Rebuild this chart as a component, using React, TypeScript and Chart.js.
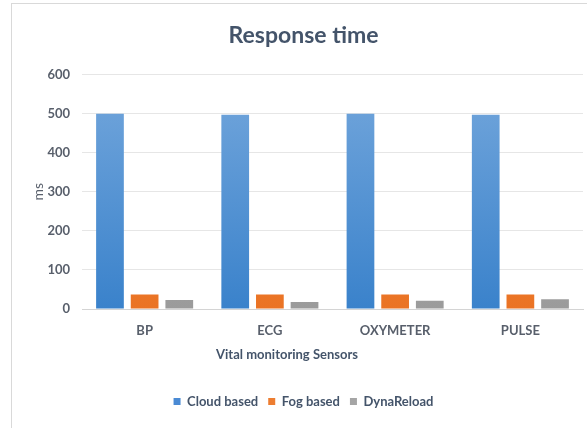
import React, { useEffect, useRef } from 'react';
import { Chart, registerables } from 'chart.js';

Chart.register(...registerables);

const categories = ['BP', 'ECG', 'OXYMETER', 'PULSE'];
const seriesNames = ['Cloud based', 'Fog based', 'DynaReload'];
const cloudBased = [500, 497, 500, 497];
const fogBased = [37, 37, 37, 37];
const dynaReload = [23, 18, 21, 25];
const yMin = 0;
const yMax = 600;
const yStep = 100;

const titleText = 'Response time';
const xTitleText = 'Vital monitoring Sensors';
const yTitleText = 'ms';

const FONT = 'Lato, "Open Sans", sans-serif';
const TITLE_COLOR = '#44546a';
const TICK_COLOR = '#585f6b';

const solidColors = ['#4a8ad4', '#ed7d31', '#a5a5a5'];
const gradStops: [string, string][] = [
  ['#74a7dc', '#3a82cb'],
  ['#f58a3e', '#ea7324'],
  ['#b2b2b2', '#9b9b9b'],
];

const makeGrad = (i: number) => (ctx: any) => {
  const chart = ctx.chart;
  const area = chart.chartArea;
  if (!area) return solidColors[i];
  const g = chart.ctx.createLinearGradient(0, area.top, 0, area.bottom);
  g.addColorStop(0, gradStops[i][0]);
  g.addColorStop(1, gradStops[i][1]);
  return g;
};

const xTitlePlugin = {
  id: 'xTitlePlugin',
  afterDraw(chart: any) {
    const c = chart.ctx;
    c.save();
    c.font = `bold 13px ${FONT}`;
    c.fillStyle = TITLE_COLOR;
    c.textAlign = 'center';
    c.textBaseline = 'middle';
    c.fillText(xTitleText, 287, 355);
    c.restore();
  },
};

export default function App() {
  const ref = useRef<HTMLCanvasElement | null>(null);
  useEffect(() => {
    if (!ref.current) return;
    const series = [cloudBased, fogBased, dynaReload];
    const chart = new Chart(ref.current, {
      type: 'bar',
      data: {
        labels: categories,
        datasets: series.map((d, i) => ({
          label: seriesNames[i],
          data: d,
          backgroundColor: makeGrad(i),
          borderWidth: 0,
          barPercentage: 0.8,
          categoryPercentage: 0.83,
        })),
      },
      plugins: [xTitlePlugin],
      options: {
        animation: false,
        responsive: false,
        devicePixelRatio: 1,
        layout: { padding: { left: 24, right: 4, top: 12, bottom: 10 } },
        plugins: {
          tooltip: { enabled: false },
          title: {
            display: true,
            text: titleText,
            color: TITLE_COLOR,
            font: { family: FONT, size: 23, weight: 'bold' },
            padding: { top: 10, bottom: 25 },
          },
          legend: {
            position: 'bottom',
            labels: {
              boxWidth: 7,
              boxHeight: 7,
              padding: 10,
              color: TITLE_COLOR,
              font: { family: FONT, size: 13, weight: 'bold' },
              generateLabels: (chart: any) =>
                chart.data.datasets.map((ds: any, i: number) => ({
                  text: ds.label,
                  fillStyle: solidColors[i],
                  strokeStyle: solidColors[i],
                  lineWidth: 0,
                  fontColor: TITLE_COLOR,
                  datasetIndex: i,
                  hidden: false,
                })),
            },
          },
        },
        scales: {
          x: {
            grid: { display: false, drawTicks: false },
            border: { display: true, color: '#d4d4d4', width: 1 },
            ticks: {
              padding: 14,
              color: TICK_COLOR,
              font: { family: FONT, size: 13, weight: 'bold' },
            },
            afterFit: (scale: any) => {
              scale.height = 76;
            },
          },
          y: {
            min: yMin,
            max: yMax,
            grid: { color: '#e6e6e6', drawTicks: false },
            border: { display: false },
            ticks: {
              stepSize: yStep,
              padding: 12,
              color: TICK_COLOR,
              font: { family: FONT, size: 13, weight: 'bold' },
            },
            title: {
              display: true,
              text: yTitleText,
              color: TICK_COLOR,
              font: { family: FONT, size: 14, weight: 'normal' },
              padding: { top: 6, bottom: 0 },
            },
            afterFit: (scale: any) => {
              scale.width = 58;
            },
          },
        },
      } as any,
    });
    return () => chart.destroy();
  }, []);

  return (
    <div style={{ position: 'fixed', left: 0, top: 0, width: 587, height: 428, background: '#fff' }}>
      <div
        style={{
          position: 'absolute',
          left: 11,
          top: 3,
          width: 600,
          height: 440,
          borderLeft: '1px solid #d9d9d9',
          borderTop: '1px solid #d9d9d9',
          boxSizing: 'border-box',
        }}
      />
      <canvas ref={ref} width={587} height={428} style={{ position: 'absolute', left: 0, top: 0 }} />
    </div>
  );
}
